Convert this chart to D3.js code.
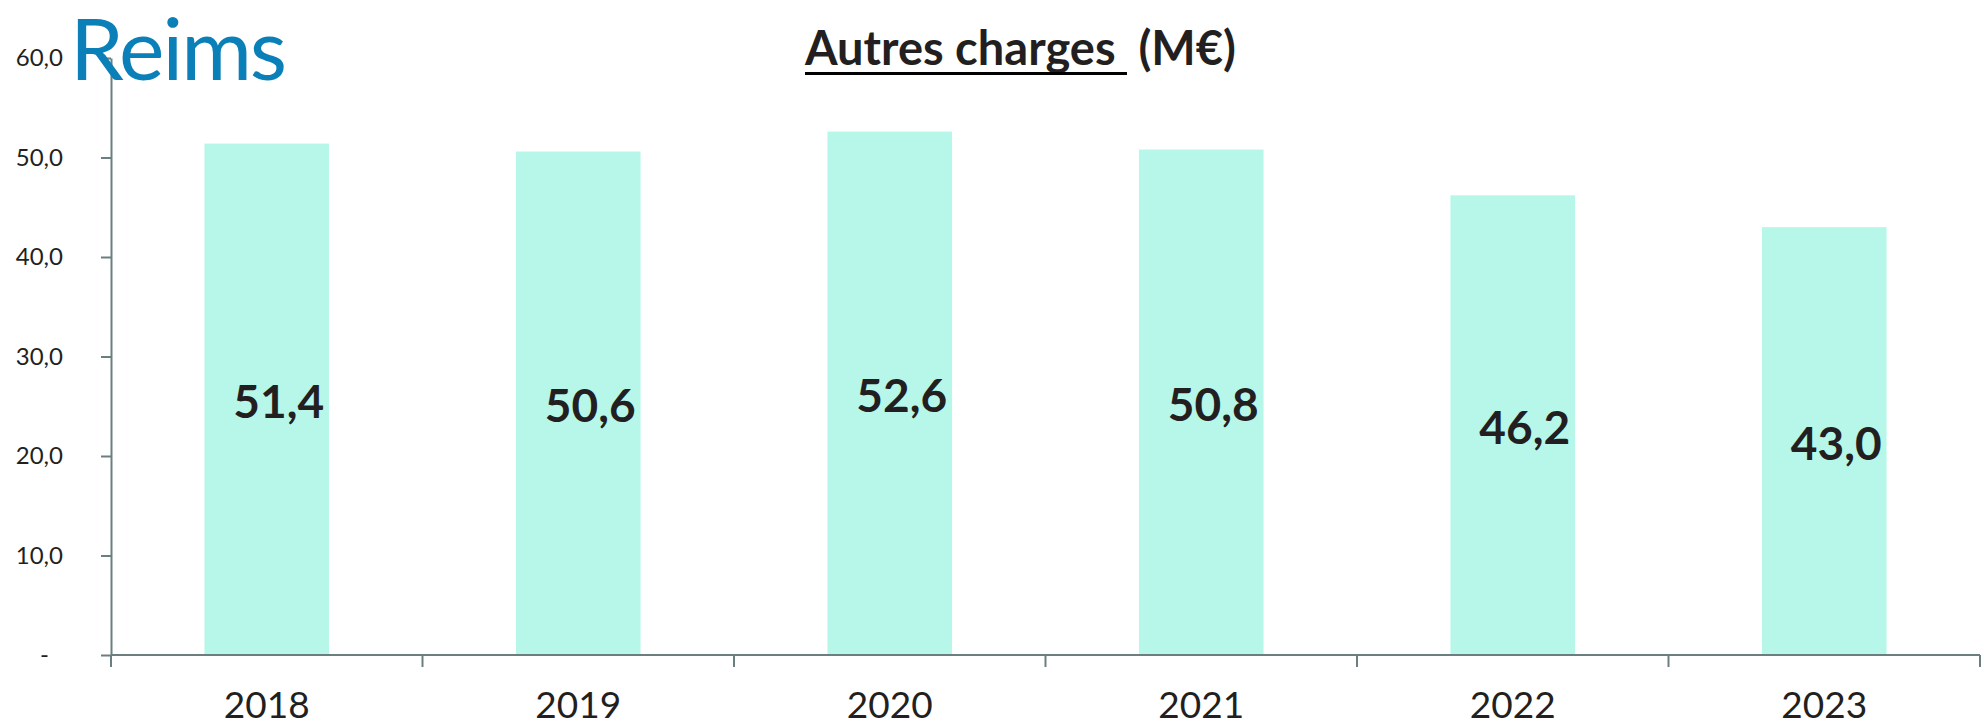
<!DOCTYPE html>
<html>
<head>
<meta charset="utf-8">
<script src="https://cdn.jsdelivr.net/npm/d3@7"></script>
<style>
  body { margin: 0; background: #fff; }
  text { font-family: Lato, "Open Sans", sans-serif; fill: #231f20; }
</style>
</head>
<body>
<script>
// data
var years = ["2018", "2019", "2020", "2021", "2022", "2023"];
var values = [51.4, 50.6, 52.6, 50.8, 46.2, 43.0];
var yTicks = [0, 10, 20, 30, 40, 50, 60];

var W = 1984, H = 725;
var plotLeft = 111, plotRight = 1980, plotTop = 58, plotBase = 655;

var fr = d3.formatLocale({decimal: ",", thousands: " ", grouping: [3], currency: ["", " €"]});
var fmt = fr.format(".1f");

var svg = d3.select("body").append("svg")
    .attr("width", W)
    .attr("height", H);

var x = d3.scaleBand()
    .domain(years)
    .range([plotLeft, plotRight])
    .paddingInner(0.6)
    .paddingOuter(0.3);

// boundaries between categories
var xEdge = d3.scaleLinear().domain([0, years.length]).range([plotLeft, plotRight]);

var y = d3.scaleLinear().domain([0, 60]).range([plotBase, plotTop]);

var axisColor = "#6b7f80";

// bars
svg.selectAll(".bar")
    .data(values)
    .enter()
    .append("rect")
    .attr("class", "bar")
    .attr("x", function(d, i) { return x(years[i]); })
    .attr("y", function(d) { return y(d); })
    .attr("width", x.bandwidth())
    .attr("height", function(d) { return plotBase - y(d); })
    .style("fill", "#b6f7ea");

// y axis
var yAxis = svg.append("g")
    .attr("transform", "translate(" + plotLeft + ",0)")
    .call(d3.axisLeft(y)
        .tickValues(yTicks)
        .tickSize(10)
        .tickSizeOuter(0)
        .tickFormat(function(d) { return d === 0 ? "-" : fmt(d); }));
yAxis.selectAll("path, line").style("stroke", axisColor).style("stroke-width", 2);
yAxis.selectAll("text")
    .style("font-size", "24px")
    .style("font-family", "Lato, sans-serif")
    .style("fill", "#231f20")
    .attr("x", function(d) { return d === 0 ? -62 : -48; });

// x axis line and ticks
svg.append("line")
    .attr("x1", plotLeft).attr("x2", plotRight)
    .attr("y1", plotBase).attr("y2", plotBase)
    .style("stroke", axisColor).style("stroke-width", 2);

svg.selectAll(".xtick")
    .data(d3.range(years.length + 1))
    .enter()
    .append("line")
    .attr("class", "xtick")
    .attr("x1", function(d) { return xEdge(d); })
    .attr("x2", function(d) { return xEdge(d); })
    .attr("y1", plotBase)
    .attr("y2", plotBase + 12)
    .style("stroke", axisColor).style("stroke-width", 2);

svg.selectAll(".xlabel")
    .data(years)
    .enter()
    .append("text")
    .attr("class", "xlabel")
    .attr("x", function(d) { return x(d) + x.bandwidth() / 2; })
    .attr("y", 718)
    .style("text-anchor", "middle")
    .style("font-size", "37px")
    .text(function(d) { return d; });

// value labels
svg.selectAll(".val")
    .data(values)
    .enter()
    .append("text")
    .attr("class", "val")
    .attr("x", function(d, i) { return x(years[i]) + x.bandwidth() / 2 + 12; })
    .attr("y", function(d) { return (y(d) + plotBase) / 2 + 19; })
    .style("text-anchor", "middle")
    .style("font-size", "46px")
    .style("font-weight", "bold")
    .text(function(d) { return fmt(d); });

// title
var title = svg.append("text")
    .attr("x", 805)
    .attr("y", 65)
    .style("font-size", "47px")
    .style("font-weight", "bold")
    .style("white-space", "pre");
title.append("tspan").text("Autres charges ");
title.append("tspan").text(" (M€)");

var tw = title.select("tspan").node().getComputedTextLength();
svg.append("rect")
    .attr("x", 805)
    .attr("y", 72)
    .attr("width", tw)
    .attr("height", 3)
    .style("fill", "#000");

// logo
svg.append("text")
    .attr("x", 70)
    .attr("y", 80)
    .style("font-size", "86px")
    .style("letter-spacing", "-2px")
    .style("fill", "#0a7fb8")
    .text("Reims");
</script>
</body>
</html>
